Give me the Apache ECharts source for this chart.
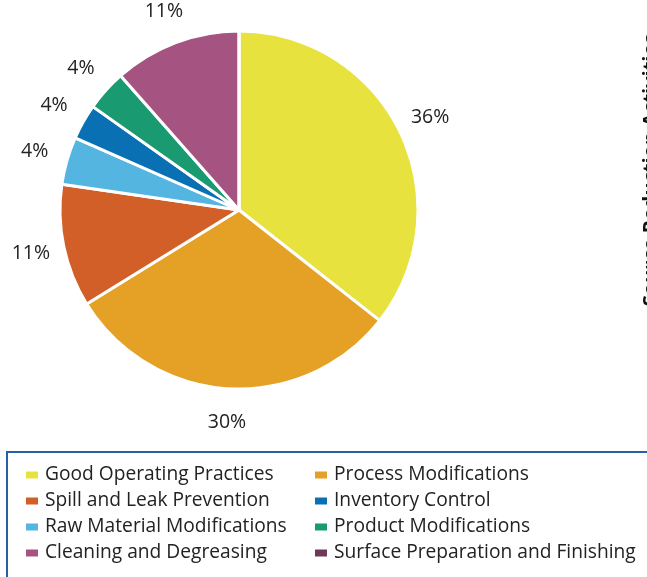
<!DOCTYPE html>
<html><head><meta charset="utf-8">
<script src="https://cdn.jsdelivr.net/npm/echarts@6/dist/echarts.min.js"></script>
<style>html,body{margin:0;padding:0;background:#fff}#c{width:647px;height:577px}</style>
</head><body><div id="c"></div>
<script>
const categories = ['Good Operating Practices','Process Modifications','Spill and Leak Prevention','Raw Material Modifications','Inventory Control','Product Modifications','Cleaning and Degreasing','Surface Preparation and Finishing'];
const values = [35.6, 30.6, 11.1, 4.3, 3.2, 3.7, 11.5, 0];
const valueLabels = ['36%','30%','11%','4%','4%','4%','11%',''];
const colors = ['#e8e23f','#e5a125','#d35f28','#55b5e1','#0a70b4','#1a9a70','#a55482','#6e3856'];
const legendLeft = ['Good Operating Practices','Spill and Leak Prevention','Raw Material Modifications','Cleaning and Degreasing'];
const legendRight = ['Process Modifications','Inventory Control','Product Modifications','Surface Preparation and Finishing'];
const axisTitle = 'Source Reduction Activities';

const chart = echarts.init(document.getElementById('c'), null, {renderer:'canvas'});
const pieData = categories.map((n,i)=>({name:n, value:values[i], itemStyle:{color:colors[i]}}));
const labelData = categories.map((n,i)=>({name:n, value:values[i], label:{show: values[i]>0}}));
const legendCommon = {
  orient:'vertical', itemWidth:14, itemHeight:9, itemGap:6, icon:'rect', padding:0,
  textStyle:{fontFamily:'Open Sans', fontSize:19.2, color:'#222', lineHeight:20, padding:[0,0,0,1]},
  selectedMode:false
};
chart.setOption({
  animation:false,
  color: colors,
  legend:[
    Object.assign({data:legendLeft, left:24, top:465}, legendCommon),
    Object.assign({data:legendRight, left:313, top:465}, legendCommon)
  ],
  graphic:[
    {type:'rect', shape:{x:7, y:452, width:700, height:200}, style:{fill:'none', stroke:'#2462a6', lineWidth:2}, silent:true},
    {type:'text', x:651, y:170, rotation:Math.PI/2, style:{text:axisTitle, font:'bold 20px "Open Sans"', fill:'#111', textAlign:'center', textVerticalAlign:'middle'}, silent:true}
  ],
  series:[
    {type:'pie', center:[239,210], radius:[0,179], startAngle:90, clockwise:true,
     data:pieData, label:{show:false}, labelLine:{show:false}, silent:true,
     itemStyle:{borderColor:'#fff', borderWidth:3}},
    {type:'pie', center:[239,210], radius:[0,419], startAngle:90, clockwise:true, silent:true,
     data:labelData, itemStyle:{color:'rgba(0,0,0,0)'}, z:5, legendHoverLink:false,
     label:{show:true, position:'inside', formatter:p=>valueLabels[p.dataIndex], fontFamily:'Open Sans', fontSize:19.5, color:'#222'},
     labelLine:{show:false}}
  ]
});
</script></body></html>
